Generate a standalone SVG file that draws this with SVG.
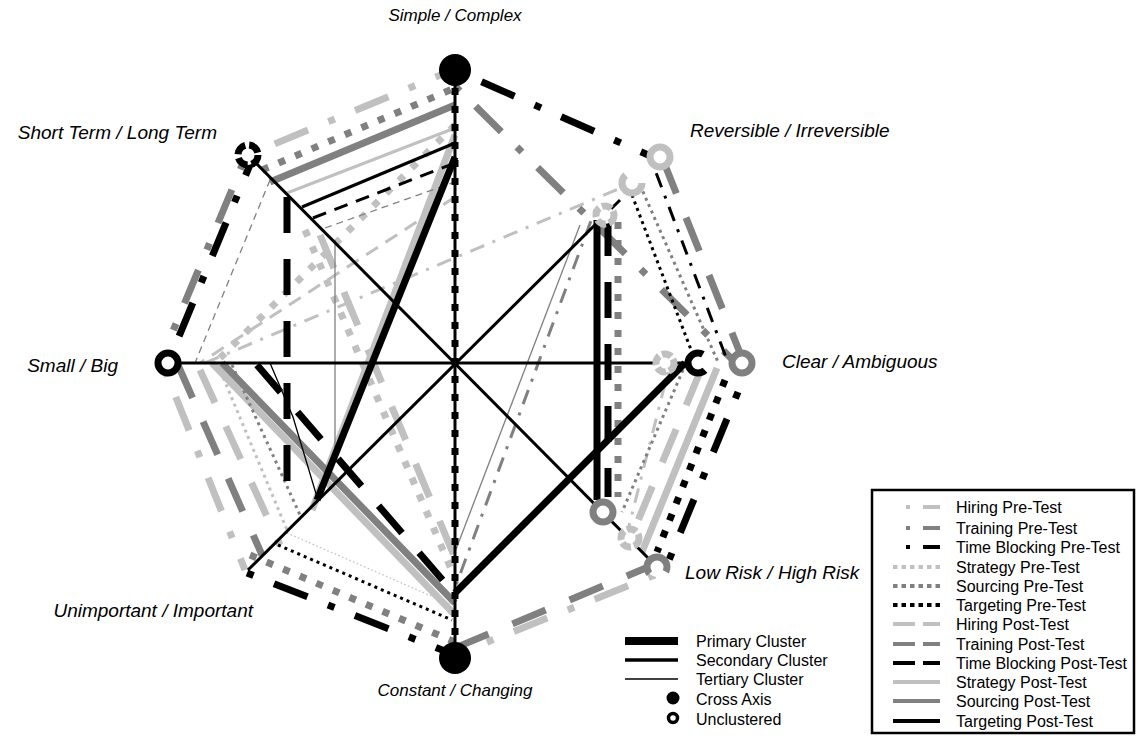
<svg xmlns="http://www.w3.org/2000/svg" width="1137" height="736" viewBox="0 0 1137 736">
<style>
.ax{font-family:"Liberation Sans",Arial,sans-serif;font-size:19px;font-style:italic;fill:#000}
.axv{font-size:17px}
.lt{font-family:"Liberation Sans",Arial,sans-serif;font-size:16px;fill:#000}
line,polyline{fill:none;stroke-linecap:butt;stroke-linejoin:miter}
.lg{stroke:#c0c0c0}.g{stroke:#808080}.k{stroke:#000}
.P{stroke-width:7}.S{stroke-width:3}.T{stroke-width:1.3}
.ddP{stroke-dasharray:7 22 36 22}.ddS{stroke-dasharray:3 9 15 9}
.dotP{stroke-dasharray:7 11}.dotS{stroke-dasharray:3 4}.dotT{stroke-dasharray:1.5 2.5}
.ldP{stroke-dasharray:36 26}.ldS{stroke-dasharray:14 9}.ldT{stroke-dasharray:7 5}
.ring{fill:#fff;stroke-width:7}
.leg{stroke-width:4}
</style>
<g id="connectors">
<line class="lg P ddP" x1="248" y1="155" x2="455" y2="69"/>
<line class="lg P ddP" x1="165" y1="370" x2="245" y2="570"/>
<line class="lg P ddP" x1="655" y1="575" x2="455" y2="655"/>
<line class="lg S ddS" x1="628" y1="185" x2="205" y2="363"/>
<line class="lg S ddS" x1="668" y1="372" x2="628" y2="530"/>
<line class="lg P ldP" x1="200" y1="370" x2="280" y2="545"/>
<line class="lg P ldP" x1="700" y1="372" x2="630" y2="540"/>
<line class="lg P ldP" x1="320" y1="235" x2="455" y2="558"/>
<line class="lg S ldS" x1="455" y1="197" x2="200" y2="363"/>
<line class="lg P dotP" x1="455" y1="125" x2="215" y2="363"/>
<line class="lg P dotP" x1="305" y1="230" x2="455" y2="578"/>
<line class="lg S dotS" x1="218" y1="365" x2="287" y2="530"/>
<line class="lg T dotT" x1="287" y1="533" x2="452" y2="605"/>
<line class="lg P" x1="455" y1="135" x2="312" y2="510"/>
<line class="lg P" x1="212" y1="363" x2="455" y2="615"/>
<line class="lg P" x1="717" y1="368" x2="642" y2="552"/>
<line class="lg S" x1="287" y1="193" x2="455" y2="128"/>
<line class="g P ddP" x1="455" y1="86" x2="738" y2="365"/>
<line class="g P ddP" x1="243" y1="163" x2="165" y2="350"/>
<line class="g S ddS" x1="595" y1="210" x2="455" y2="588"/>
<line class="g P dotP" x1="262" y1="170" x2="455" y2="88"/>
<line class="g P dotP" x1="618" y1="222" x2="618" y2="497"/>
<line class="g P dotP" x1="250" y1="555" x2="455" y2="642"/>
<line class="g S dotS" x1="640" y1="185" x2="718" y2="362"/>
<line class="g S dotS" x1="683" y1="370" x2="622" y2="512"/>
<line class="g S dotS" x1="232" y1="365" x2="300" y2="515"/>
<line class="g P ldP" x1="663" y1="160" x2="742" y2="358"/>
<line class="g P ldP" x1="660" y1="562" x2="455" y2="648"/>
<line class="g P ldP" x1="178" y1="365" x2="262" y2="555"/>
<line class="g T ldT" x1="325" y1="228" x2="455" y2="182"/>
<line class="g T ldT" x1="270" y1="180" x2="195" y2="363"/>
<line class="g P" x1="270" y1="182" x2="455" y2="105"/>
<line class="g P" x1="222" y1="363" x2="455" y2="603"/>
<polyline class="g T" points="335,240 335,462 312,505"/>
<line class="g T" x1="580" y1="225" x2="455" y2="552"/>
<line class="k S" x1="455" y1="70" x2="455" y2="658"/>
<line class="k P dotP" x1="455" y1="70" x2="455" y2="658"/>
<line class="k P dotP" x1="725" y1="380" x2="657" y2="552"/>
<line class="k S dotS" x1="632" y1="195" x2="693" y2="355"/>
<line class="k S dotS" x1="278" y1="545" x2="452" y2="620"/>
<line class="k P ddP" x1="455" y1="70" x2="655" y2="158"/>
<line class="k P ddP" x1="168" y1="363" x2="252" y2="160"/>
<line class="k P ddP" x1="247" y1="573" x2="455" y2="655"/>
<line class="k P ddP" x1="738" y1="392" x2="667" y2="565"/>
<line class="k S ddS" x1="652" y1="162" x2="727" y2="360"/>
<line class="k P ldP" x1="257" y1="365" x2="453" y2="592"/>
<line class="k P ldP" x1="287" y1="197" x2="287" y2="507"/>
<line class="k P ldP" x1="608" y1="220" x2="608" y2="497"/>
<line class="k S ldS" x1="313" y1="218" x2="455" y2="163"/>
<line class="k P" x1="455" y1="157" x2="317" y2="500"/>
<line class="k P" x1="597" y1="220" x2="597" y2="500"/>
<line class="k P" x1="455" y1="593" x2="685" y2="363"/>
<line class="k S" x1="168" y1="363" x2="698" y2="363"/>
<line class="k S" x1="248" y1="155" x2="657" y2="567"/>
<line class="k S" x1="248" y1="570" x2="620" y2="200"/>
<line class="k S" x1="302" y1="207" x2="455" y2="143"/>
<polyline class="k T" points="270,363 293,417 317,497"/>
</g>
<g id="markers">
<circle cx="455" cy="70" r="16" fill="#000"/>
<circle cx="455" cy="658" r="16" fill="#000"/>
<circle class="ring k" cx="168" cy="363" r="10"/>
<circle class="ring k" cx="248" cy="155" r="10" stroke-dasharray="12 4"/>
<circle class="ring lg" cx="660" cy="157" r="10"/>
<circle class="ring lg" cx="632" cy="183" r="10" stroke-dasharray="40 23"/>
<circle class="ring lg" cx="605" cy="215" r="9" stroke-width="6" stroke-dasharray="10 3"/>
<circle class="ring lg" cx="665" cy="363" r="9" stroke-width="6" stroke-dasharray="10 3"/>
<circle class="ring k" cx="698" cy="363" r="10" stroke-dasharray="44 19" stroke-dashoffset="-8"/>
<circle class="ring g" cx="742" cy="363" r="10"/>
<circle class="ring g" cx="603" cy="512" r="10"/>
<circle class="ring g" cx="657" cy="567" r="10" stroke-dasharray="44 19" stroke-dashoffset="-24"/>
<circle class="ring lg" cx="630" cy="538" r="9" stroke-width="6" stroke-dasharray="10 3"/>
</g>
<g id="axis-labels">
<text class="ax axv" x="455" y="21" text-anchor="middle">Simple / Complex</text>
<text class="ax" x="690" y="137">Reversible / Irreversible</text>
<text class="ax" x="782" y="368">Clear / Ambiguous</text>
<text class="ax" x="685" y="579">Low Risk / High Risk</text>
<text class="ax axv" x="455" y="696" text-anchor="middle">Constant / Changing</text>
<text class="ax" x="253" y="617" text-anchor="end">Unimportant / Important</text>
<text class="ax" x="118" y="372" text-anchor="end">Small / Big</text>
<text class="ax" x="217" y="139" text-anchor="end">Short Term / Long Term</text>
</g>
<g id="cluster-legend">
<line x1="625" y1="641" x2="678" y2="641" stroke="#000" stroke-width="8"/>
<line x1="625" y1="660" x2="678" y2="660" stroke="#000" stroke-width="3.5"/>
<line x1="625" y1="679" x2="678" y2="679" stroke="#000" stroke-width="1.3"/>
<circle cx="673" cy="698" r="6.5" fill="#000"/>
<circle cx="673" cy="718" r="4.5" fill="#fff" stroke="#000" stroke-width="3.5"/>
<text class="lt" x="696" y="647">Primary Cluster</text>
<text class="lt" x="696" y="666">Secondary Cluster</text>
<text class="lt" x="696" y="685">Tertiary Cluster</text>
<text class="lt" x="696" y="705">Cross Axis</text>
<text class="lt" x="696" y="725">Unclustered</text>
</g>
<g id="series-legend">
<rect x="872" y="490" width="262" height="243" fill="#fff" stroke="#000" stroke-width="2.5"/>
<g class="leg">
<line class="lg" x1="906" y1="507" x2="910" y2="507"/><line class="lg" x1="923" y1="507" x2="940" y2="507"/>
<line class="g" x1="906" y1="528" x2="910" y2="528"/><line class="g" x1="923" y1="528" x2="940" y2="528"/>
<line class="k" x1="906" y1="547" x2="910" y2="547"/><line class="k" x1="923" y1="547" x2="940" y2="547"/>
<line class="lg" x1="893" y1="567" x2="940" y2="567" stroke-dasharray="4.5 4"/>
<line class="g" x1="893" y1="586" x2="940" y2="586" stroke-dasharray="4.5 4"/>
<line class="k" x1="893" y1="605" x2="940" y2="605" stroke-dasharray="4.5 4"/>
<line class="lg" x1="893" y1="624" x2="915" y2="624"/><line class="lg" x1="923" y1="624" x2="940" y2="624"/>
<line class="g" x1="893" y1="644" x2="915" y2="644"/><line class="g" x1="923" y1="644" x2="940" y2="644"/>
<line class="k" x1="893" y1="663" x2="915" y2="663"/><line class="k" x1="923" y1="663" x2="940" y2="663"/>
<line class="lg" x1="893" y1="682" x2="940" y2="682"/>
<line class="g" x1="893" y1="701" x2="940" y2="701"/>
<line class="k" x1="893" y1="721" x2="940" y2="721"/>
</g>
<text class="lt" x="956" y="513">Hiring Pre-Test</text>
<text class="lt" x="956" y="534">Training Pre-Test</text>
<text class="lt" x="956" y="553">Time Blocking Pre-Test</text>
<text class="lt" x="956" y="573">Strategy Pre-Test</text>
<text class="lt" x="956" y="592">Sourcing Pre-Test</text>
<text class="lt" x="956" y="611">Targeting Pre-Test</text>
<text class="lt" x="956" y="630">Hiring Post-Test</text>
<text class="lt" x="956" y="650">Training Post-Test</text>
<text class="lt" x="956" y="669">Time Blocking Post-Test</text>
<text class="lt" x="956" y="688">Strategy Post-Test</text>
<text class="lt" x="956" y="707">Sourcing Post-Test</text>
<text class="lt" x="956" y="727">Targeting Post-Test</text>
</g>
</svg>
